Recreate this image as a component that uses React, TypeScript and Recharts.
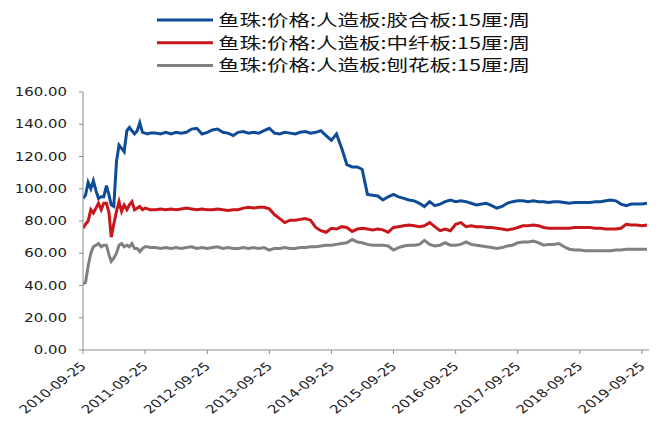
import React from 'react';
import { LineChart, Line, XAxis, YAxis, Legend } from 'recharts';

// ---- data ----
const dates = [
  '2010-09-25', '2010-10-10', '2010-10-25', '2010-11-10', '2010-11-25', '2010-12-10', '2010-12-25',
  '2011-01-10', '2011-01-25', '2011-02-10', '2011-02-25', '2011-03-10', '2011-03-25', '2011-04-10',
  '2011-04-25', '2011-05-10', '2011-05-25', '2011-06-10', '2011-06-25', '2011-07-10', '2011-07-25',
  '2011-08-10', '2011-08-25', '2011-09-10', '2011-09-25', '2011-10-10', '2011-10-25',
  '2011-11-25', '2011-12-25',
  '2012-01-25', '2012-02-25', '2012-03-25', '2012-04-25', '2012-05-25', '2012-06-25',
  '2012-07-25', '2012-08-25', '2012-09-25', '2012-10-25', '2012-11-25', '2012-12-25',
  '2013-01-25', '2013-02-25', '2013-03-25', '2013-04-25', '2013-05-25', '2013-06-25',
  '2013-07-25', '2013-08-25', '2013-09-25', '2013-10-25', '2013-11-25', '2013-12-25',
  '2014-01-25', '2014-02-25', '2014-03-25', '2014-04-25', '2014-05-25', '2014-06-25',
  '2014-07-25', '2014-08-25', '2014-09-25', '2014-10-25', '2014-11-25', '2014-12-25',
  '2015-01-25', '2015-02-25', '2015-03-25', '2015-04-25', '2015-05-25', '2015-06-25',
  '2015-07-25', '2015-08-25', '2015-09-25', '2015-10-25', '2015-11-25', '2015-12-25',
  '2016-01-25', '2016-02-25', '2016-03-25', '2016-04-25', '2016-05-25', '2016-06-25',
  '2016-07-25', '2016-08-25', '2016-09-25', '2016-10-25', '2016-11-25', '2016-12-25',
  '2017-01-25', '2017-02-25', '2017-03-25', '2017-04-25', '2017-05-25', '2017-06-25',
  '2017-07-25', '2017-08-25', '2017-09-25', '2017-10-25', '2017-11-25', '2017-12-25',
  '2018-01-25', '2018-02-25', '2018-03-25', '2018-04-25', '2018-05-25', '2018-06-25',
  '2018-07-25', '2018-08-25', '2018-09-25', '2018-10-25', '2018-11-25', '2018-12-25',
  '2019-01-25', '2019-02-25', '2019-03-25', '2019-04-25', '2019-05-25', '2019-06-25',
  '2019-07-25', '2019-08-25', '2019-09-25', '2019-10-25',
];

// 胶合板 (plywood)
const plywood = [
  94, 96, 104, 100, 105, 99, 94, 95, 95, 102, 96, 90, 89, 117, 127, 125, 123, 136, 138, 136, 134, 136, 141, 135, 134.5, 134, 134.5,
  134.5, 134,
  135, 134, 135, 134.5, 135, 137, 137.5, 134, 135, 136.5, 137, 135,
  134.5, 133, 135, 135.5, 134.5, 135, 134.5, 136, 137.5, 134.5, 134, 135,
  134.5, 134, 135, 135.5, 134.5, 135, 136, 133, 130, 134, 125, 115,
  113.5, 113.5, 112, 96.5, 96, 95.5, 93, 95, 96.5, 95, 94, 93,
  92.5, 91, 89, 92, 89.5, 90.5, 92, 93, 92, 92.5, 92, 91,
  90, 90.5, 91, 89.5, 88, 89, 91, 92, 92.5, 92.5, 92, 92.5,
  92, 92, 91.5, 92, 92, 91.5, 91, 91.5, 91.5, 91.5, 91.5, 92,
  92, 92.5, 93, 92.5, 90.5, 89.5, 90.5, 90.5, 90.5, 91,
];

// 中纤板 (MDF)
const mdf = [
  75.5, 78, 80, 87, 85, 88, 91, 87, 91, 91, 85, 70, 78, 86, 92, 86, 90, 87, 90, 92, 87, 88, 89, 87, 88, 87.5, 87,
  87, 87.5,
  87, 87.5, 87, 87.5, 88, 87.5, 87, 87.5, 87, 87, 87.5, 87,
  86.5, 87, 87, 88, 88.5, 88, 88.5, 88.5, 87.5, 84, 81.5, 79,
  80.5, 80.5, 81, 81.5, 80.5, 76, 74, 73, 75.5, 75, 76.5, 76,
  73.5, 75, 75.5, 75, 74.5, 75, 74.5, 73, 76, 76.5, 77, 77.5,
  77, 76.5, 77, 79, 76.5, 74, 75, 74, 78, 79, 76.5, 77,
  76.5, 76.5, 76, 76, 75.5, 75, 74.5, 75, 76, 77, 77, 77.5,
  77, 76, 75.5, 75.5, 75.5, 75.5, 75.5, 76, 76, 76, 76, 75.5,
  75.5, 75, 75, 75, 75.5, 78, 77.5, 77.5, 77, 77.5,
];

// 刨花板 (particle board)
const particle = [
  41, 42, 52, 60, 64, 65, 66, 64, 65, 65, 59, 55, 57, 60, 65, 66, 64, 65, 64, 66, 63, 63, 61, 63, 64, 64, 63.5,
  63.5, 63,
  63.5, 63, 63.5, 63, 63.5, 64, 63, 63.5, 63, 63.5, 64, 63,
  63.5, 63, 63, 63.5, 63, 63.5, 63, 63.5, 62, 63, 63, 63.5,
  63, 63, 63.5, 63.5, 64, 64, 64.5, 65, 65, 65.5, 66, 66.5,
  68.5, 67, 66.5, 65.5, 65, 65, 65, 64.5, 62, 63.5, 64.5, 65,
  65, 65.5, 68, 65.5, 64.5, 65, 66.5, 65, 65, 65.5, 67, 65.5,
  65, 64.5, 64, 63.5, 63, 63.5, 64.5, 65, 66.5, 67, 67, 67.5,
  66.5, 65, 65.5, 65.5, 66, 64, 62.5, 62, 62, 61.5, 61.5, 61.5,
  61.5, 61.5, 61.5, 62, 62, 62.5, 62.5, 62.5, 62.5, 62.5,
];

const seriesNames = [
  '鱼珠:价格:人造板:胶合板:15厘:周',
  '鱼珠:价格:人造板:中纤板:15厘:周',
  '鱼珠:价格:人造板:刨花板:15厘:周',
];
const seriesColors = ['#0F4C97', '#C8161A', '#808080'];

const xTickLabels = [
  '2010-09-25', '2011-09-25', '2012-09-25', '2013-09-25', '2014-09-25',
  '2015-09-25', '2016-09-25', '2017-09-25', '2018-09-25', '2019-09-25',
];
const xDomainLabels = ['2010-09-25', '2019-11-06'];
const yTicks = [0, 20, 40, 60, 80, 100, 120, 140, 160];

// ---- derived tables ----
const data = dates.map((d, i) => ({
  t: Date.parse(d),
  plywood: plywood[i],
  mdf: mdf[i],
  particle: particle[i],
}));
const xTicks = xTickLabels.map((s) => Date.parse(s));
const xDomain = xDomainLabels.map((s) => Date.parse(s));

const fmtDate = (v: number) => new Date(v).toISOString().slice(0, 10);

const AXIS_GRAY = '#8C8C8C';
const TEXT_FONT = '"DejaVu Sans", Verdana, sans-serif';
const STRETCH = 1.3;

const YTick = (props: any) => {
  const { x, y, payload } = props;
  return (
    <text
      transform={`translate(${x},${y + 4.2}) scale(${STRETCH},1)`}
      textAnchor="end"
      fontSize={11.5}
      fontFamily={TEXT_FONT}
      fill="#1a1a1a"
    >
      {Number(payload.value).toFixed(2)}
    </text>
  );
};

const XTick = (props: any) => {
  const { x, y, payload } = props;
  return (
    <text
      transform={`translate(${x + 4},${y + 11}) scale(${STRETCH},1) rotate(-45)`}
      textAnchor="end"
      fontSize={11.5}
      fontFamily={TEXT_FONT}
      fill="#1a1a1a"
    >
      {fmtDate(payload.value)}
    </text>
  );
};

const rowY = [20, 42.7, 65.4];

const LegendContent = (props: any) => {
  const payload = props.payload || [];
  const ordered = seriesNames
    .map((n) => payload.find((p: any) => p.value === n))
    .filter(Boolean);
  return (
    <svg
      width={660}
      height={80}
      style={{ position: 'absolute', left: 0, top: 0, overflow: 'visible' }}
    >
      {ordered.map((p: any, i: number) => (
        <g key={i}>
          <line x1={157} x2={213} y1={rowY[i]} y2={rowY[i]} stroke={p.color} strokeWidth={3} />
          <text
            x={218}
            y={rowY[i] + 6}
            textLength={312}
            lengthAdjust="spacingAndGlyphs"
            fontSize={16}
            fontFamily='"Noto Sans CJK SC", sans-serif'
            fill="#111"
          >
            {p.value}
          </text>
        </g>
      ))}
    </svg>
  );
};

export default function App() {
  return (
    <div style={{ position: 'absolute', left: 0, top: 0, width: 660, height: 437, background: '#fff' }}>
      <LineChart
        width={660}
        height={437}
        data={data}
        margin={{ top: 92, right: 11, bottom: 0, left: 0 }}
      >
        <XAxis
          dataKey="t"
          type="number"
          domain={xDomain}
          ticks={xTicks}
          allowDataOverflow
          interval={0}
          height={87}
          tickSize={4}
          tickMargin={2}
          stroke={AXIS_GRAY}
          tickLine={{ stroke: AXIS_GRAY }}
          axisLine={{ stroke: AXIS_GRAY }}
          tick={<XTick />}
        />
        <YAxis
          type="number"
          domain={[0, 160]}
          ticks={yTicks}
          interval={0}
          width={83}
          tickSize={4}
          tickMargin={12}
          stroke={AXIS_GRAY}
          tickLine={{ stroke: AXIS_GRAY }}
          axisLine={{ stroke: AXIS_GRAY }}
          tick={<YTick />}
        />
        <Legend
          content={<LegendContent />}
          itemSorter={null as any}
          verticalAlign="top"
          wrapperStyle={{ position: 'absolute', left: 0, top: 0, width: 0, height: 0, margin: 0, padding: 0 }}
        />
        <Line
          type="linear"
          dataKey="plywood"
          name={seriesNames[0]}
          stroke={seriesColors[0]}
          strokeWidth={3}
          dot={false}
          isAnimationActive={false}
        />
        <Line
          type="linear"
          dataKey="mdf"
          name={seriesNames[1]}
          stroke={seriesColors[1]}
          strokeWidth={3}
          dot={false}
          isAnimationActive={false}
        />
        <Line
          type="linear"
          dataKey="particle"
          name={seriesNames[2]}
          stroke={seriesColors[2]}
          strokeWidth={3}
          dot={false}
          isAnimationActive={false}
        />
      </LineChart>
    </div>
  );
}
